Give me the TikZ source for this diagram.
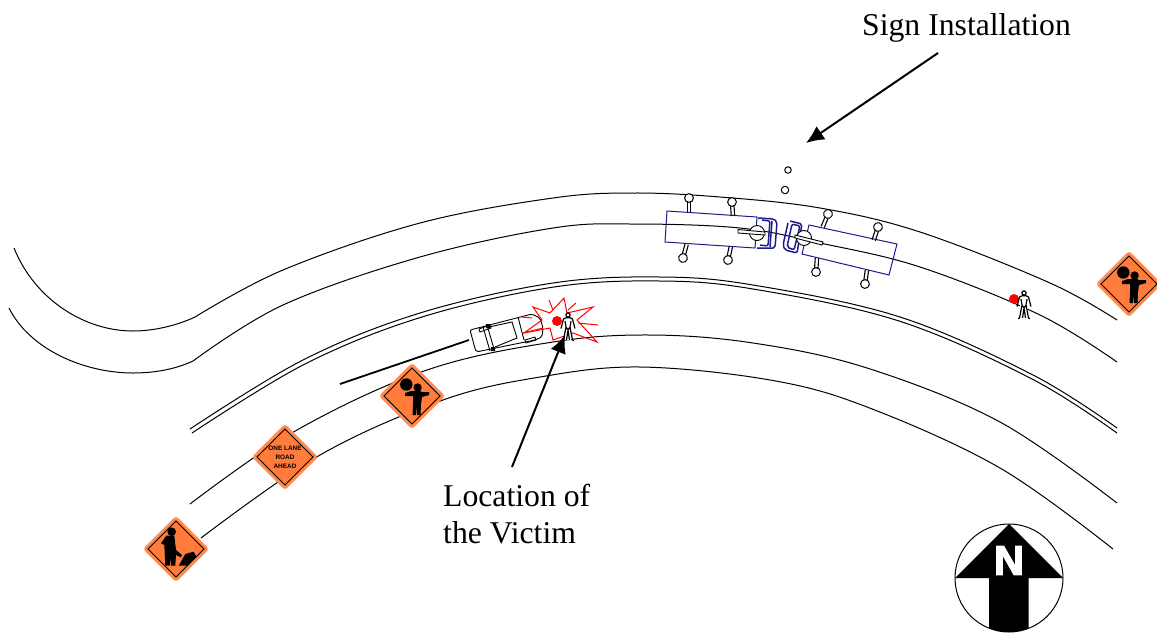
\documentclass[tikz,border=0pt]{standalone}
\usepackage{fontspec}
\setmainfont{Liberation Serif}
\newfontfamily\signfont{Liberation Sans}
\newfontfamily\heavyfont[BoldFeatures={FakeBold=3.5}]{Liberation Sans}
\usetikzlibrary{arrows.meta}
\definecolor{signorange}{HTML}{FF7C3C}
\definecolor{signedge}{HTML}{FF8A52}
\definecolor{truckblue}{HTML}{1C1C8C}
\tikzset{
  road/.style={draw=black,line width=1pt,smooth,tension=0.6},
  callout/.style={draw=black,line width=2pt,-{Latex[length=18pt,width=16pt]}},
  label text/.style={font=\fontsize{31.7}{37}\selectfont,inner sep=0,align=left,anchor=base west},
  truck/.style={draw=truckblue,line width=1pt},
  cabline/.style={draw=truckblue,line width=1.5pt,rounded corners=2pt},
  star/.style={draw=red,line width=1pt},
  signbase/.pic={
    \draw[signedge,fill=signorange,line width=2.2pt,rounded corners=1.5pt,line join=round]
      (0,-31.5)--(31.5,0)--(0,31.5)--(-31.5,0)--cycle;
    \draw[black,line width=0.9pt] (0,-28)--(28,0)--(0,28)--(-28,0)--cycle;
  },
  flagger/.pic={
    \pic {signbase};
    \fill[black] (-5.7,-11.5) circle (6.2);
    \fill[black] (5.6,-8.5) circle (4.2);
    \fill[black] (-7,-3) -- (-1,-5) -- (8,-5) -- (10,-4) -- (17,-4) -- (17,-1) -- (10,1) -- (9,8)
      -- (8.5,19) -- (5,19) -- (4.8,10) -- (3.8,19) -- (0.5,19) -- (1,8) -- (1,0) -- (-7,0) -- cycle;
  },
  digger/.pic={
    \pic {signbase};
    \fill[black] (-4.3,-17.3) circle (4.3);
    \fill[black] (-9.7,-13.3) -- (-1.7,-13.3) -- (0,1) -- (6,6) -- (5,8.3) -- (0,6) -- (-0.7,16.7)
      -- (-5,16.7) -- (-5.7,7.7) -- (-6.3,16.7) -- (-10.7,16.7) -- (-11.7,-4) -- (-15,-5.7) -- cycle;
    \fill[black] (2.7,16.7) -- (9.3,5) -- (17.7,2.7) -- (20.3,7.7) -- (11.7,16.7) -- cycle;
  },
  walker/.pic={
    \fill[white] (-3,-9) -- (3,-9) -- (4,0) -- (3,13) -- (-3,13) -- (-4,0) -- cycle;
    \draw[black,line width=1.2pt,fill=white] (0,-12) circle (2.1);
    \draw[black,line width=1.2pt] (-2,-9.2) -- (-4.5,-8) -- (-7,1.5) (2,-9.2) -- (4.5,-8) -- (7,1.5)
      (-3,-6) -- (-2,0) -- (-4.5,13) -- (-6,13.6) (3,-6) -- (2,0) -- (4.5,13) -- (6,13.6)
      (-2,0) -- (0,3) -- (2,0) (0,3) -- (-1.5,13) (0,3) -- (1.5,13) (-2,-9.2) -- (2,-9.2);
  },
  mast/.pic={
    \draw[black,line width=1.1pt] (-1.7,0) -- (-1.7,14) (1.7,0) -- (1.7,14);
    \draw[black,line width=1pt,fill=white] (0,0) circle (4.4);
  }
}
\begin{document}
\begin{tikzpicture}[x=1pt,y=-1pt]
\useasboundingbox (0,0) rectangle (1157,633);
% roads
\draw[draw=black,line width=1pt] (14,248) .. controls (35,300) and (85,331) .. (133,331) .. controls (155,331) and (178,325) .. (195,317);
\draw[draw=black,line width=1pt] (9,308) .. controls (30,350) and (85,373) .. (133,373) .. controls (155,373) and (176,369) .. (193,361);
\draw[road] plot coordinates {(195,317) (283,270) (420,223) (553,198) (633,193) (720,197) (820,208) (920,232) (1050,283) (1117,320)};
\draw[road] plot coordinates {(193,361) (283,305) (420,257) (553,228) (633,224) (740,228) (820,243) (920,267) (1040,315) (1117,362)};
\draw[road] plot coordinates {(190,429) (303,360) (420,313) (553,283) (660,277) (753,285) (900,317) (1033,375) (1117,428)};
\draw[road] plot coordinates {(192,433) (305,364) (422,317) (554,287) (660,281) (753,289) (899,321) (1032,379) (1117,433)};
\draw[road] plot coordinates {(190,504) (297,430) (427,370) (553,342) (650,335) (753,343) (867,368) (1000,422) (1117,503)};
\draw[road] plot coordinates {(201,538) (320,455) (443,400) (540,377) (640,367) (770,380) (867,407) (1000,468) (1113,549)};
% skid mark
\coordinate (skidA) at (340,384);
\coordinate (skidB) at (469,340);
\draw[black,line width=1.8pt] (skidA) -- (skidB);
% car
\draw[black,line width=0.9pt,fill=white,rounded corners=2pt] (470,330) -- (532,314) -- (540,318) -- (543,328) -- (542,337) -- (535,340) -- (476,352) -- cycle;
\draw[black,line width=0.9pt] (483,327) -- (490,351) (487,325) -- (494,349) (489,327) -- (512,322) -- (517,338) -- (495,347)
  (518,317) -- (524,340);
\draw[black,line width=0.8pt] (479,329) -- (490,325) -- (491,328) -- (480,332) -- cycle (525,340) -- (535,337) -- (536,340) -- (526,343) -- cycle;
\fill[black] (486,324) rectangle (490,328) (491,347) rectangle (495,351);
% trucks
\draw[truck] (667,211) -- (757,217) -- (755,248) -- (665,242) -- cycle;
\draw[truck] (809,225) -- (897,244) -- (889,275) -- (802,254) -- cycle;
\draw[cabline] (758,218) -- (774,219) -- (777,222) -- (775,248) -- (757,248);
\draw[cabline] (762,220) -- (770,221) -- (768,246) -- (760,245);
\draw[cabline] (772,221) -- (770,247);
\draw[cabline] (790,221) -- (802,224) -- (797,253) -- (785,250) -- (783,245) -- (788,223);
\draw[cabline] (792,224) -- (800,226) -- (794,250) -- (787,247) -- cycle;
\draw[black,line width=0.9pt,fill=white] (757,233) circle (7.5);
\draw[black,line width=0.9pt,fill=white] (738,229.5) -- (765,232) -- (765,235) -- (738,233) -- cycle;
\draw[black,line width=0.9pt,fill=white] (804,238) circle (7.5);
\draw[black,line width=0.9pt,fill=white] (795,235) -- (823,242) -- (822,245) -- (795,238) -- cycle;
% outriggers
\pic[rotate=0] at (689,198) {mast};
\pic[rotate=4] at (732,202) {mast};
\pic[rotate=165] at (683,258) {mast};
\pic[rotate=168] at (728,260) {mast};
\pic[rotate=-22] at (828,214) {mast};
\pic[rotate=-18] at (878,227) {mast};
\pic[rotate=176] at (816,272) {mast};
\pic[rotate=172] at (865,284) {mast};
\node[circle,draw=black,line width=1pt,minimum size=6.5pt,inner sep=0] (ballA) at (788,170) {};
\node[circle,draw=black,line width=1pt,minimum size=7.5pt,inner sep=0] (ballB) at (785,190) {};
% impact star
\draw[star,line join=miter] (533,307) -- (550,313) -- (564,298) -- (567,313) -- (593,307) -- (577,320) -- (597,342) -- (573,333) -- (553,340) -- (550,328) -- (524,333) -- (542,320) -- cycle;
\draw[star] (549,300) -- (553,310) (576,303) -- (568,310) (578,323) -- (598,325) (522,317) -- (532,318) (523,333) -- (543,328);
\fill[red] (557,321) circle (5);
\pic at (568,327) {walker};
\fill[red] (1014,299) circle (5);
\pic at (1024,305) {walker};
% signs
\pic at (176,549) {digger};
\pic at (285,457) {signbase};
\node[font=\signfont\bfseries\fontsize{6.4}{9}\selectfont,align=center,inner sep=0,text=black] (oneLane) at (285,457) {ONE LANE\\ROAD\\AHEAD};
\pic at (412,396) {flagger};
\pic at (1129,284) {flagger};
% north
\begin{scope}
\clip (1009,578) circle (54);
\fill[black] (1009,524) -- (1063,578) -- (1028.5,578) -- (1028.5,640) -- (989,640) -- (989,578) -- (955,578) -- cycle;
\end{scope}
\node[circle,draw=black,line width=1pt,minimum size=108pt,inner sep=0] (compass) at (1009,578) {};
\node[font=\heavyfont\bfseries\fontsize{41}{41}\selectfont,text=white,inner sep=0] (north) at (1009,560.5) {N};
% labels
\node[label text] (signLabel) at (862,35) {Sign Installation};
\node[label text] (victimA) at (443,506) {Location of};
\node[label text] (victimB) at (443,543) {the Victim};
\coordinate (signFrom) at (938,53);
\coordinate (signTo) at (806,143);
\coordinate (victimFrom) at (512,467);
\coordinate (victimTo) at (565,335);
\draw[callout] (signFrom) -- (signTo);
\draw[callout] (victimFrom) -- (victimTo);
\end{tikzpicture}
\end{document}
